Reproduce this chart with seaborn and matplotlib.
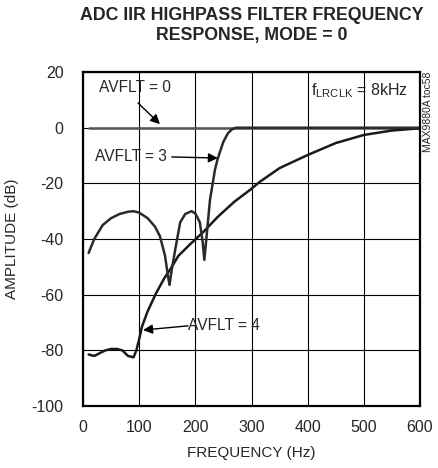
import matplotlib
matplotlib.use("Agg")
import matplotlib.pyplot as plt
import seaborn as sns
import pandas as pd

# values
freq_avflt0 = [10, 100, 200, 300, 400, 500, 600]
db_avflt0 = [0, 0, 0, 0, 0, 0, 0]

freq_avflt3 = [10, 20, 35, 50, 65, 80, 90, 100, 115, 128, 137, 146, 151, 154,
               158, 164, 173, 182, 193, 200, 208, 213, 216, 220, 226, 235, 240,
               250, 258, 265, 272, 300, 400, 500, 600]
db_avflt3 = [-45, -40, -35, -32.5, -31, -30.2, -30, -30.5, -32.5, -35.5, -39,
             -46, -53, -56.5, -51, -44, -34, -31, -30, -30.8, -34, -41, -47.5,
             -39, -26, -15, -11, -5, -2, -0.6, 0, 0, 0, 0, 0]

freq_avflt4 = [10, 20, 30, 40, 50, 60, 70, 80, 90, 95, 100, 105, 115, 130, 145,
               155, 170, 190, 214, 240, 270, 297, 315, 350, 400, 450, 500, 550, 600]
db_avflt4 = [-81.5, -82, -81, -80, -79.5, -79.5, -80, -82, -82.5, -80, -76,
             -71.5, -66, -59.5, -54, -51, -46, -42, -37.5, -32, -26.5, -22.4,
             -19.4, -14.5, -9.8, -5.5, -2.6, -1, -0.2]

x_ticks = [0, 100, 200, 300, 400, 500, 600]
y_ticks = [-100, -80, -60, -40, -20, 0, 20]

sns.set_style("white")
plt.rcParams['font.family'] = ['Liberation Sans', 'DejaVu Sans']
plt.rcParams['mathtext.fontset'] = 'custom'
plt.rcParams['mathtext.rm'] = 'Liberation Sans'
plt.rcParams['axes.unicode_minus'] = False

fig = plt.figure(figsize=(4.38, 4.68), dpi=100)
ax = fig.add_axes([0.1895, 0.1325, 0.7695, 0.7135])

df0 = pd.DataFrame({'f': freq_avflt0, 'db': db_avflt0})
df3 = pd.DataFrame({'f': freq_avflt3, 'db': db_avflt3})
df4 = pd.DataFrame({'f': freq_avflt4, 'db': db_avflt4})

# flat curve first so the others sit on top of it
sns.lineplot(data=df0, x='f', y='db', ax=ax, color='#555555', lw=1.8, estimator=None)
sns.lineplot(data=df4, x='f', y='db', ax=ax, color='#1a1a1a', lw=1.8, estimator=None)
sns.lineplot(data=df3, x='f', y='db', ax=ax, color='#2a2a2a', lw=1.8, estimator=None)

ax.set_xlim(0, 600)
ax.set_ylim(-100, 20)
ax.set_xticks(x_ticks)
ax.set_yticks(y_ticks)
ax.grid(True, color='black', lw=0.8)
for s in ax.spines.values():
    s.set_linewidth(1.6)
    s.set_color('black')
ax.tick_params(length=0, labelsize=11.5)
ax.tick_params(axis='y', pad=14)
ax.tick_params(axis='x', pad=10)
ax.set_xlabel('FREQUENCY (Hz)', fontsize=11, labelpad=8)
ax.set_ylabel('AMPLITUDE (dB)', fontsize=11)
ax.yaxis.set_label_coords(-0.19, 0.5)

fig.suptitle('ADC IIR HIGHPASS FILTER FREQUENCY\nRESPONSE, MODE = 0',
             x=0.574, y=0.985, fontsize=12.8, fontweight='bold', linespacing=1.25)

arrow = dict(arrowstyle='-|>', color='black', lw=1, mutation_scale=14, shrinkA=0, shrinkB=0)
ax.text(92, 14.3, 'AVFLT = 0', fontsize=11.2, ha='center', va='center')
ax.annotate('', xy=(137, 1.3), xytext=(98, 8.9), arrowprops=arrow)
ax.text(85, -10.5, 'AVFLT = 3', fontsize=11.2, ha='center', va='center')
ax.annotate('', xy=(240, -10.9), xytext=(158, -10.5), arrowprops=arrow)
ax.text(251, -70.9, 'AVFLT = 4', fontsize=11.2, ha='center', va='center')
ax.annotate('', xy=(107, -72.7), xytext=(187, -71.2), arrowprops=arrow)
ax.text(406, 13.5, r'f$_{\mathregular{LRCLK}}$ = 8kHz', fontsize=11.5, ha='left', va='center')

fig.text(428 / 438, 1 - 112 / 468, 'MAX9880A toc58', rotation=90, fontsize=7.5,
         ha='center', va='center')

plt.savefig('out.png', dpi=100)
